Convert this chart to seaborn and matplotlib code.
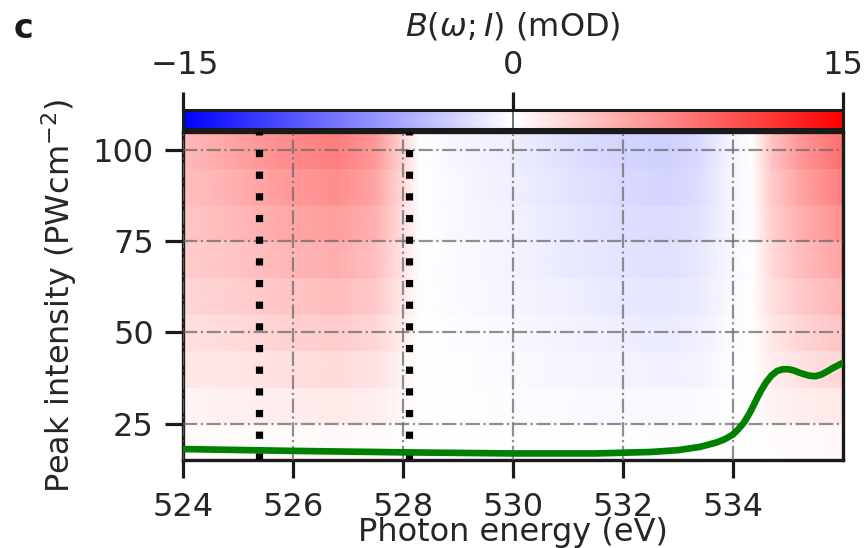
import numpy as np
import matplotlib
matplotlib.use("Agg")
import matplotlib.pyplot as plt
from matplotlib.cm import ScalarMappable
from matplotlib.colors import Normalize
import seaborn as sns

# Photon-energy knots (eV) at which B(omega; I) is tabulated
energy = [524.0, 525.0, 526.0, 526.8, 527.5, 528.0, 528.3, 529.0, 530.0,
          531.0, 532.0, 532.8, 533.4, 533.9, 534.35, 534.7, 535.2, 536.0]

# Peak intensities (PW cm^-2) of the simulated rows
intensity = [20, 30, 40, 50, 60, 70, 80, 90, 100]

# B(omega; I) in mOD, one list per intensity row
b_020 = [0.2, 0.3, 0.35, 0.4, 0.3, 0.1, 0.0, 0.0, -0.05, -0.1, -0.1, -0.15, -0.1, 0.0, 0.0, 0.2, 0.3, 0.4]
b_030 = [0.7, 0.9, 1.1, 1.2, 1.0, 0.4, 0.0, -0.1, -0.2, -0.3, -0.4, -0.4, -0.35, -0.1, 0.0, 0.6, 1.0, 1.4]
b_040 = [1.3, 1.5, 1.9, 2.1, 1.7, 0.7, 0.0, -0.1, -0.3, -0.5, -0.7, -0.8, -0.6, -0.2, 0.0, 1.0, 1.7, 2.4]
b_050 = [1.8, 2.2, 2.7, 3.0, 2.4, 1.0, 0.0, -0.2, -0.4, -0.7, -1.0, -1.1, -0.9, -0.3, 0.0, 1.4, 2.4, 3.4]
b_060 = [2.4, 2.9, 3.5, 3.9, 3.1, 1.3, 0.0, -0.3, -0.5, -0.9, -1.3, -1.5, -1.1, -0.4, 0.0, 1.8, 3.1, 4.4]
b_070 = [3.0, 3.5, 4.4, 4.8, 3.8, 1.6, 0.0, -0.3, -0.6, -1.2, -1.6, -1.8, -1.4, -0.5, 0.0, 2.2, 3.8, 5.4]
b_080 = [3.3, 4.2, 5.2, 5.7, 4.6, 1.9, 0.0, -0.4, -0.8, -1.4, -1.9, -2.1, -1.7, -0.6, 0.0, 2.7, 4.6, 6.5]
b_090 = [3.7, 4.8, 6.0, 6.6, 5.3, 2.2, 0.0, -0.4, -0.9, -1.6, -2.2, -2.5, -1.9, -0.7, 0.0, 3.0, 5.3, 7.5]
b_100 = [4.0, 5.5, 6.8, 7.5, 6.0, 2.5, 0.0, -0.5, -1.0, -1.8, -2.5, -2.8, -2.2, -0.8, 0.0, 3.5, 6.0, 8.5]
b_rows = [b_020, b_030, b_040, b_050, b_060, b_070, b_080, b_090, b_100]

# Ground-state absorption spectrum, drawn in intensity-axis units
spec_energy = [524.0, 526.0, 528.0, 530.0, 531.5, 532.5, 533.0, 533.4, 533.7,
               533.85, 534.0, 534.1, 534.2, 534.3, 534.4, 534.5, 534.6,
               534.7, 534.8, 534.9, 535.0, 535.1, 535.2, 535.3, 535.4,
               535.5, 535.6, 535.7, 535.8, 535.9, 536.0]
spec_level = [18.0, 17.5, 17.1, 16.8, 16.8, 17.2, 17.7, 18.6, 19.8,
              20.7, 22.0, 23.5, 25.3, 27.8, 30.8, 33.8, 36.3,
              38.2, 39.4, 39.9, 39.9, 39.6, 39.0, 38.5, 38.1,
              38.0, 38.4, 39.2, 40.1, 40.9, 41.7]

# Energies of the marked resonances (eV)
marker_energy = [525.38, 528.1]

x_ticks = [524, 526, 528, 530, 532, 534]
y_ticks = [25, 50, 75, 100]
cbar_ticks = [-15, 0, 15]

sns.set_theme(style="ticks")
plt.rcParams["font.family"] = ["DejaVu Sans"]
plt.rcParams["mathtext.fontset"] = "dejavusans"

FS = 23
cmap = "bwr"
norm = Normalize(vmin=-15, vmax=15)

fig = plt.figure(figsize=(8.66, 5.48), dpi=100)
ax = fig.add_axes([183 / 866, 1 - 460 / 548, 660 / 866, 328 / 548])
cax = fig.add_axes([183 / 866, 1 - 129 / 548, 660 / 866, 19 / 548])

# Heatmap: sharp steps in intensity, smooth shading along energy
e = np.asarray(energy)
for level, row in zip(intensity, b_rows):
    X = np.vstack([e, e])
    Y = np.vstack([np.full(e.size, level - 5.0), np.full(e.size, level + 5.05)])
    C = np.vstack([row, row])
    ax.pcolormesh(X, Y, C, shading="gouraud", cmap=cmap, norm=norm,
                  antialiased=False, zorder=1)

ax.set_xlim(524, 536)
ax.set_ylim(15, 105)
ax.set_xticks(x_ticks)
ax.set_yticks(y_ticks)

ax.set_axisbelow(False)
ax.grid(True, ls="-.", color="0.42", lw=1.6, alpha=0.75)

for xe in marker_energy:
    ax.axvline(xe, color="black", lw=5.2, ls=(0, (1, 2)), zorder=3)

sns.lineplot(x=spec_energy, y=spec_level, ax=ax, color="green", lw=4.8,
             zorder=4, solid_capstyle="round", solid_joinstyle="round",
             sort=False, estimator=None)

for sp in ax.spines.values():
    sp.set_linewidth(2.4)
    sp.set_color(".1")
    sp.set_visible(True)
ax.tick_params(axis="both", direction="out", length=13, width=2.3,
               labelsize=FS, pad=8, color=".1")
ax.tick_params(axis="x", pad=10)
ax.set_xlabel("Photon energy (eV)", fontsize=FS, labelpad=-4)
ax.set_ylabel(r"Peak intensity (PWcm$^{-2}$)", fontsize=FS, labelpad=10)

# Colour bar on top
sm = ScalarMappable(norm=norm, cmap=cmap)
cb = fig.colorbar(sm, cax=cax, orientation="horizontal", ticks=cbar_ticks)
cb.outline.set_linewidth(2.2)
cb.outline.set_edgecolor(".1")
cax.xaxis.set_ticks_position("top")
cax.xaxis.set_label_position("top")
cax.set_xticklabels([r"$-15$", "0", "15"])
cax.tick_params(axis="x", direction="out", length=13, width=2.3,
                labelsize=FS, pad=8, color=".1")
cax.axvline(0, color="0.35", lw=1.2)
cb.set_label(r"$B(\omega;I)$ (mOD)", fontsize=FS, labelpad=10)

fig.text(14 / 866, 1 - 38 / 548, "c", fontsize=24, fontweight="bold",
         color=".1")

fig.savefig("out.png", dpi=100)
